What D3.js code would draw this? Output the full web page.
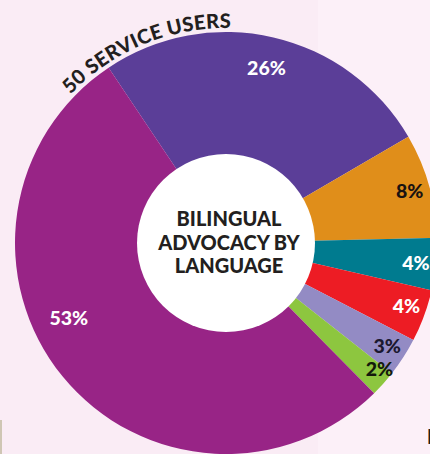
<!DOCTYPE html>
<html>
<head>
<meta charset="utf-8">
<script src="https://cdn.jsdelivr.net/npm/d3@7"></script>
<style>
  html, body { margin: 0; padding: 0; background: #fbeef6; }
  svg { display: block; }
  text { font-family: Lato, "Open Sans", sans-serif; font-weight: 900; }
</style>
</head>
<body>
<svg id="chart" width="430" height="454"></svg>
<script>
// Share of bilingual advocacy sessions by language (percent)
const segments = ["seg1", "seg2", "seg3", "seg4", "seg5", "seg6", "seg7"];
const shares = [26, 8, 4, 4, 3, 2, 53];
const shareLabels = ["26%", "8%", "4%", "4%", "3%", "2%", "53%"];
const titleLines = ["BILINGUAL", "ADVOCACY BY", "LANGUAGE"];
const ringCaption = "50 SERVICE USERS";

// Styling
const fills = ["#5b3e98", "#e08e1a", "#007b8f", "#ed1c24", "#938bc4", "#8dc63f", "#982486"];
const labelFills = ["#ffffff", "#1a1311", "#ffffff", "#ffffff", "#1b1830", "#141a0c", "#ffffff"];

const W = 430, H = 454;
const cx = 226, cy = 243;
const outerR = 211, innerR = 89;
const startDeg = -33.8;

const svg = d3.select("#chart");

// page background, with a slightly lighter right-hand panel
svg.append("rect").attr("width", W).attr("height", H).attr("fill", "#faecf5");
svg.append("rect").attr("x", 318).attr("width", W - 318).attr("height", H).attr("fill", "#fcf0f8");

const g = svg.append("g").attr("transform", `translate(${cx},${cy})`);

const pie = d3.pie()
  .sort(null)
  .value(d => d.value)
  .startAngle(startDeg * Math.PI / 180)
  .endAngle(startDeg * Math.PI / 180 + 2 * Math.PI);

const data = segments.map((k, i) => ({ key: k, value: shares[i], label: shareLabels[i] }));
const arcs = pie(data);

const color = d3.scaleOrdinal().domain(segments).range(fills);
const labelColor = d3.scaleOrdinal().domain(segments).range(labelFills);

const arc = d3.arc().innerRadius(innerR - 2).outerRadius(outerR);

g.selectAll("path.slice")
  .data(arcs)
  .join("path")
  .attr("class", "slice")
  .attr("d", arc)
  .attr("fill", d => color(d.data.key));

// white hub
g.append("circle").attr("r", innerR).attr("fill", "#ffffff");

// label placement: radius from centre, and an angular nudge in degrees
const labelRadius = { seg1: 180, seg6: 198, seg7: 174 };
const labelNudge = { seg7: 13.8, seg6: -2.6, seg5: -0.4, seg4: -1 };

g.selectAll("text.pct")
  .data(arcs)
  .join("text")
  .attr("class", "pct")
  .attr("text-anchor", "middle")
  .attr("dominant-baseline", "central")
  .attr("font-size", 19.5)
  .attr("fill", d => labelColor(d.data.key))
  .attr("transform", d => {
    const mid = (d.startAngle + d.endAngle) / 2 + (labelNudge[d.data.key] || 0) * Math.PI / 180;
    const r = labelRadius[d.data.key] || 191;
    return `translate(${r * Math.sin(mid)},${-r * Math.cos(mid)})`;
  })
  .text(d => d.data.label);

// centre title
g.selectAll("text.title")
  .data(titleLines)
  .join("text")
  .attr("class", "title")
  .attr("text-anchor", "middle")
  .attr("font-size", 20)
  .attr("fill", "#231f20")
  .attr("x", 3)
  .attr("y", (d, i) => -17 + i * 23.5)
  .text(d => d);

// caption curved along the outer rim
const capR = 215;
const a0 = -47 * Math.PI / 180, a1 = 2 * Math.PI / 180;
const capPath = `M${capR * Math.sin(a0)},${-capR * Math.cos(a0)} A${capR},${capR} 0 0 1 ${capR * Math.sin(a1)},${-capR * Math.cos(a1)}`;
g.append("path").attr("id", "capArc").attr("d", capPath).attr("fill", "none");
g.append("text")
  .attr("font-size", 20)
  .attr("fill", "#231f20")
  .append("textPath")
  .attr("href", "#capArc")
  .attr("startOffset", "50%")
  .attr("text-anchor", "middle")
  .attr("letter-spacing", 0.3)
  .text(ringCaption);

// edge details
svg.append("rect").attr("x", 0).attr("y", 420).attr("width", 2).attr("height", 34).attr("fill", "#cfc6b4");
svg.append("text").attr("x", 427).attr("y", 444).attr("font-size", 20).attr("fill", "#231f20").text("I");
</script>
</body>
</html>
